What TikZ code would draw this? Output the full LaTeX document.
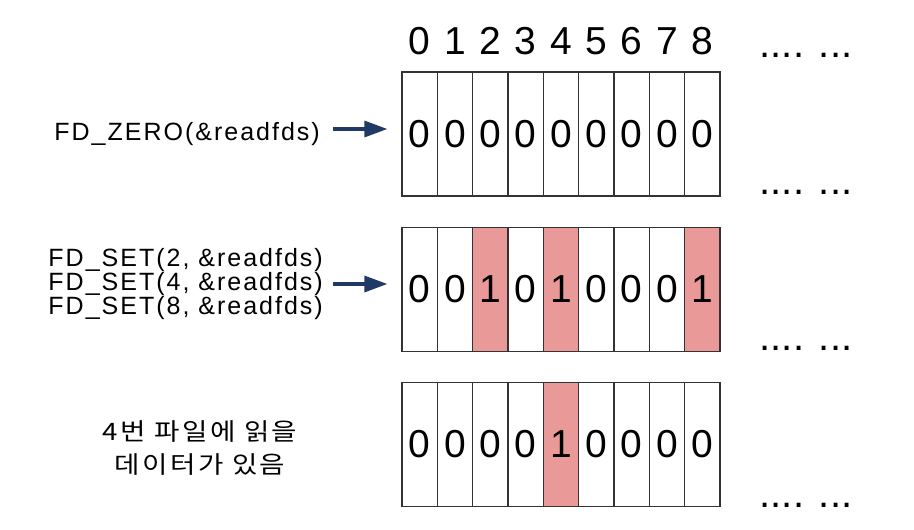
\documentclass[tikz,border=0pt]{standalone}
\usepackage{fontspec}
\setmainfont{Liberation Sans}
\newfontfamily\callfont[LetterSpace=8]{Liberation Sans}
\newfontfamily\korean[FakeStretch=1.15, LetterSpace=10]{Noto Sans CJK KR}
\usetikzlibrary{arrows.meta, positioning}
\definecolor{setred}{HTML}{EA9999}
\definecolor{arrowblue}{HTML}{1F3A64}

\begin{document}
\begin{tikzpicture}[
    x=1pt, y=-1pt,
    cell/.style={draw=black!80, line width=1.3pt, rectangle, minimum width=35.33pt, minimum height=124pt, inner sep=0pt, font=\fontsize{39}{39}\selectfont},
    index/.style={inner sep=0pt, font=\fontsize{39}{39}\selectfont},
    more/.style={inner sep=0pt, font=\fontsize{40}{40}\selectfont},
    call/.style={align=center, inner sep=0pt, font=\callfont\fontsize{25}{24}\selectfont},
    note/.style={align=center, inner sep=0pt, font=\korean\fontsize{24}{33}\selectfont},
    setarrow/.style={-{Triangle[length=23pt,width=16pt]}, line width=3.3pt, arrowblue, shorten >=14pt}
]
\useasboundingbox (0,0) rectangle (914,530);

% Index row
\foreach \i in {0,...,8}
    \node[index] (idx\i) at (419.67+35.33*\i, 41) {\i};
\node[more, anchor=base] (idxmore) at (806,57) {.... ...};

% Row 1: after FD_ZERO
\foreach \b/\f [count=\i from 0] in {0/white,0/white,0/white,0/white,0/white,0/white,0/white,0/white,0/white}
    \node[cell, fill=\f] (a\i) at (419.67+35.33*\i, 134) {\b};
\node[more, anchor=base] (amore) at (806,194) {.... ...};

% Row 2: after FD_SET
\foreach \b/\f [count=\i from 0] in {0/white,0/white,1/setred,0/white,1/setred,0/white,0/white,0/white,1/setred}
    \node[cell, fill=\f] (b\i) at (419.67+35.33*\i, 289.5) {\b};
\node[more, anchor=base] (bmore) at (806,350) {.... ...};

% Row 3: result of select
\foreach \b/\f [count=\i from 0] in {0/white,0/white,0/white,0/white,1/setred,0/white,0/white,0/white,0/white}
    \node[cell, fill=\f] (c\i) at (419.67+35.33*\i, 444.5) {\b};
\node[more, anchor=base] (cmore) at (806,507) {.... ...};

% Labels
\node[call, anchor=east] (zero) at (320,134) {FD\_ZERO(\&readfds)};
\node[call, anchor=east] (set) at (323,284) {FD\_SET(2, \&readfds)\\ FD\_SET(4, \&readfds)\\ FD\_SET(8, \&readfds)};
\node[note] (ready) at (200,448) {4번 파일에 읽을\\ 데이터가 있음};

% Arrows
\draw[setarrow, shorten <=13pt] ([yshift=5pt]zero.east) -- ([yshift=5pt]zero.east -| a0.west);
\draw[setarrow, shorten <=10pt] (set.east) -- (set.east -| b0.west);

\end{tikzpicture}
\end{document}
